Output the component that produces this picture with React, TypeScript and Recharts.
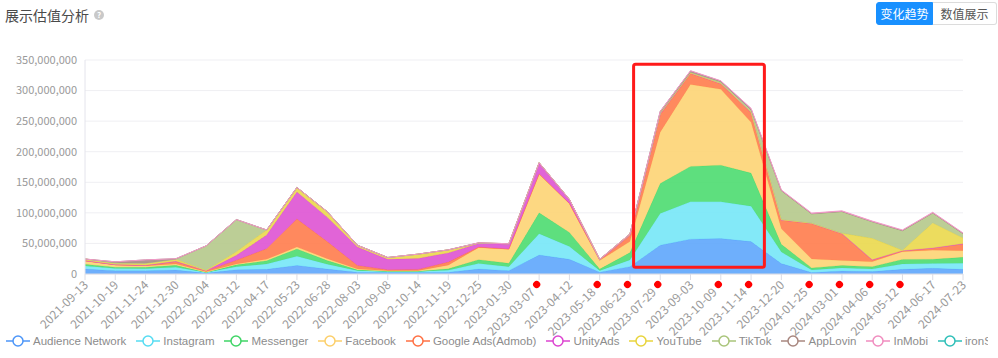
import { AreaChart, Area, XAxis, YAxis, CartesianGrid, ReferenceArea } from 'recharts'

// ~36-day buckets shown on the x axis
const dates = ['2021-09-13','2021-10-19','2021-11-24','2021-12-30','2022-02-04','2022-03-12',
  '2022-04-17','2022-05-23','2022-06-28','2022-08-03','2022-09-08','2022-10-14','2022-11-19',
  '2022-12-25','2023-01-30','2023-03-07','2023-04-12','2023-05-18','2023-06-23','2023-07-29',
  '2023-09-03','2023-10-09','2023-11-14','2023-12-20','2024-01-25','2024-03-01','2024-04-06',
  '2024-05-12','2024-06-17','2024-07-23']

// dates carrying a red marker after the label
const flaggedDates = ['2023-03-07','2023-05-18','2023-06-23','2023-07-29','2023-10-09',
  '2023-11-14','2024-01-25','2024-03-01','2024-04-06','2024-05-12']

// values in millions
const audienceNetwork = [8,5.5,5.4,6.5,1.5,7,7.6,14,8,3,2.5,2.5,3,8,5.5,31,24,3,12,47,57,58,53,17,2.5,5,4,7.6,9.3,7.6]
const instagram       = [5,3.3,3.3,4.5,1,5,8.7,15,8,2.5,1.5,1.5,3,9,6.5,35,21,2.5,11,52,61,60,58,19,4,5,4,8.7,8,9.8]
const messenger       = [3,2.3,2.3,3.2,0.5,3,5.5,12,6,1.5,0.5,0.5,2.5,6.5,5.5,34,23,2.5,12,49,58,60,54,12.5,3.5,4,4,7.6,7,9.8]
const facebook        = [5,3.3,2.2,2.1,0.5,1.5,2.2,3,3,1,1,1,6,19.5,23,63,47,14,18,84,134,124,83,25.5,14.5,8,8,12.5,14.7,11]
const googleAds       = [1,1,1.1,4.4,1.5,6,17.4,46,28,6,1.5,2,5,1,0.5,1,0.5,1,10,29,18,9,16,14,58,44,3,1.5,3.3,11]
const unityAds        = [0,0,0,0,0.5,8,22.3,44,40,30,17,18,15,6,8,17,6,0.5,0.5,1,0.5,0.5,0.5,0.5,0.3,0.3,0.3,0.3,0.3,0.3]
const youtube         = [2.5,2.5,3.3,3.3,0.5,6,8.3,7.5,9,3,3,7,5,0.5,0.5,1,0.5,0.5,2,1,0.5,0.5,0.5,0.5,0.3,0.5,35,0.5,41,9.3]
const tiktok          = [0,0,0,0,40,52.5,0,0,0,0,0,0,0,0,0,0,0,0,0,1,1,2,3,47,15,35,27,32,16,7]
const appLovin        = [0,2,5.5,1,0,0,0,0,0,0,0,0,0,0.5,0,0,0,0,0,2,2,1.5,2,0.5,0.5,0.5,0.3,0.3,0.3,0.3]
const inMobi          = [0,0,0,0,0,0,0,0,0,0,0,0,0,0,0,0,0,0,0,0,0.5,0.5,1,1,1,1,1,1,1,1]
const ironSource      = [0,0,0,0,0,0,0,0,0,0,0,0,0,0,0,0,0,0,0,0,0,0,0,0,0,0,0,0,0,0]

const yTicks = [0, 50e6, 100e6, 150e6, 200e6, 250e6, 300e6, 350e6]

// highlighted window (x in bucket index, y in raw value)
const boxX = [18.12, 22.44]
const boxY = [11e6, 343e6]

const series = [
  { key: 'an', name: 'Audience Network', color: '#5ea6fc', legend: '#4d96f8', values: audienceNetwork },
  { key: 'ig', name: 'Instagram',        color: '#76e7f7', legend: '#56dcf2', values: instagram },
  { key: 'ms', name: 'Messenger',        color: '#4cdc70', legend: '#3fd566', values: messenger },
  { key: 'fb', name: 'Facebook',         color: '#fdd474', legend: '#fccf6a', values: facebook },
  { key: 'ga', name: 'Google Ads(Admob)',color: '#ff7c4c', legend: '#ff7043', values: googleAds },
  { key: 'ua', name: 'UnityAds',         color: '#de53d3', legend: '#dc44d0', values: unityAds },
  { key: 'yt', name: 'YouTube',          color: '#ead84c', legend: '#e8d43c', values: youtube },
  { key: 'tt', name: 'TikTok',           color: '#b5c98b', legend: '#a9c47a', values: tiktok },
  { key: 'al', name: 'AppLovin',         color: '#a78c88', legend: '#a8877f', values: appLovin },
  { key: 'im', name: 'InMobi',           color: '#f39bc9', legend: '#f08dbf', values: inMobi },
  { key: 'is', name: 'ironSource',       color: '#33c3bd', legend: '#2ebfb8', values: ironSource },
]

const rows = dates.map((d, i) => {
  const r: any = { i, date: d }
  series.forEach(s => { r[s.key] = s.values[i] * 1e6 })
  return r
})

const idx = dates.map((_, i) => i)

function DateTick({ x, y, payload }: any) {
  const label = dates[payload.value]
  const flag = flaggedDates.includes(label)
  return (
    <g transform={`translate(${x},${y}) rotate(-45)`}>
      <text x={flag ? -10 : 0} y={0} textAnchor='end' dominantBaseline='central'
        fontSize={12} fill='#9a9a9a'>{label}</text>
      {flag && <circle cx={-3.5} cy={0} r={3.6} fill='#ff0000' />}
    </g>
  )
}

function LegendIcon({ color }: { color: string }) {
  return (
    <svg width={24} height={14} style={{ display:'block', flexShrink:0 }}>
      <line x1={0} y1={7} x2={24} y2={7} stroke={color} strokeWidth={1.5} />
      <circle cx={12} cy={7} r={5} fill='#fff' stroke={color} strokeWidth={1.5} />
    </svg>
  )
}

export default function App() {
  return (
    <div style={{ position:'absolute', left:0, top:0, width:998, height:358, background:'#fff',
      overflow:'hidden', fontFamily:"'Noto Sans CJK SC', 'Noto Sans', sans-serif" }}>
      <div style={{ position:'absolute', left:5, top:5, fontSize:14, color:'#4a4a4a',
        display:'flex', alignItems:'center', lineHeight:'20px' }}>
        展示估值分析
        <span style={{ display:'inline-block', width:10, height:10, borderRadius:5, background:'#c9c9c9',
          color:'#fff', fontSize:8, lineHeight:'10px', textAlign:'center', marginLeft:5, fontWeight:700 }}>?</span>
      </div>
      <div style={{ position:'absolute', left:876, top:2, display:'flex', fontSize:12, lineHeight:'22px' }}>
        <div style={{ width:57, height:23, background:'#1890ff', color:'#fff', textAlign:'center',
          borderRadius:'3px 0 0 3px', border:'1px solid #1890ff', boxSizing:'border-box' }}>变化趋势</div>
        <div style={{ width:64, height:23, background:'#fff', color:'#555', textAlign:'center',
          borderRadius:'0 3px 3px 0', border:'1px solid #dcdcdc', borderLeft:'none', boxSizing:'border-box' }}>数值展示</div>
      </div>

      <div style={{ position:'absolute', left:0, top:0 }}>
        <AreaChart width={998} height={358} data={rows} margin={{ top:60, right:35, left:0, bottom:0 }}>
          <CartesianGrid vertical={false} stroke='#efeff3' />
          <XAxis type='number' dataKey='i' domain={[0, 29]} ticks={idx} interval={0} height={84}
            tick={<DateTick />} tickLine={{ stroke:'#dcdce4' }} axisLine={{ stroke:'#dcdce4' }} />
          <YAxis width={85} domain={[0, 350e6]} ticks={yTicks} tickLine={false}
            axisLine={{ stroke:'#e4e4ec' }} tick={{ fontSize:11, fill:'#9a9a9a' }}
            tickFormatter={(v: number) => v.toLocaleString('en-US')} />
          {series.map(s => (
            <Area key={s.key} type='linear' dataKey={s.key} name={s.name} stackId='1'
              stroke={s.key === 'is' ? 'none' : s.color} strokeWidth={1} fill={s.color} fillOpacity={0.9}
              isAnimationActive={false} dot={false} activeDot={false} />
          ))}
          <ReferenceArea x1={boxX[0]} x2={boxX[1]} y1={boxY[0]} y2={boxY[1]}
            fill='none' fillOpacity={0} stroke='#ff1a1a' strokeWidth={3} radius={2} />
        </AreaChart>
      </div>

      <div style={{ position:'absolute', left:6, top:330, width:982, height:22, overflow:'hidden', whiteSpace:'nowrap',
        display:'flex', alignItems:'center', fontSize:11.5, color:'#8c8c8c', lineHeight:'20px',
        fontFamily:"'Liberation Sans', Arial, sans-serif" }}>
        {series.map(s => (
          <div key={s.key} style={{ display:'flex', alignItems:'center', marginRight:10, flexShrink:0 }}>
            <LegendIcon color={s.legend} />
            <span style={{ marginLeft:3 }}>{s.name}</span>
          </div>
        ))}
      </div>
    </div>
  )
}
